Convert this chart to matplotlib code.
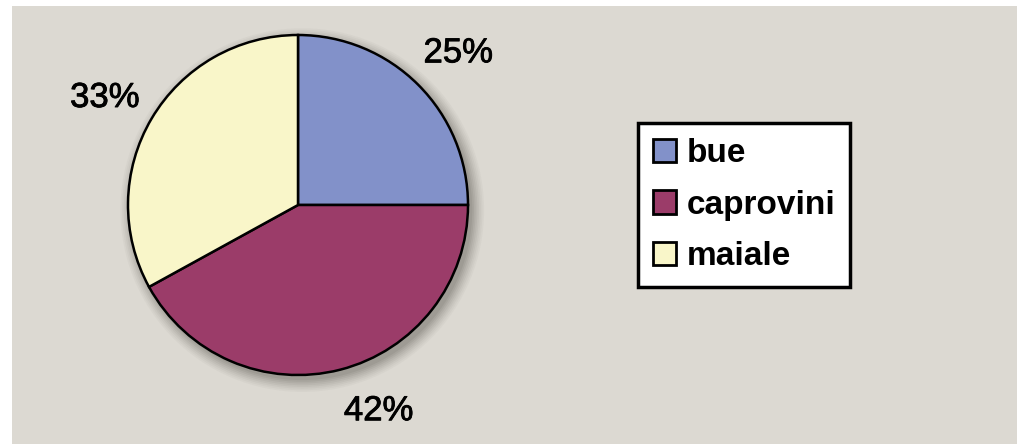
import numpy as np
import matplotlib.pyplot as plt
import matplotlib.patheffects as pe
from matplotlib.patches import Rectangle, Circle

plt.rcParams['font.family'] = ['Liberation Sans', 'DejaVu Sans']

# share of each kind of meat
categories = ['bue', 'caprovini', 'maiale']
shares = [25, 42, 33]
colors = ['#8291c9', '#9b3c69', '#f9f6c9']

fig = plt.figure(figsize=(10.17, 4.44), dpi=100)
fig.patch.set_facecolor('white')

# grey panel behind everything
fig.patches.append(Rectangle((12 / 1017, 0), 1 - 12 / 1017, 1 - 6 / 444,
                             transform=fig.transFigure, facecolor='#dcd9d2',
                             edgecolor='none', zorder=-10))

ax = fig.add_axes([128 / 1017, 69 / 444, 340 / 1017, 340 / 444])
ax.set_xlim(-1, 1)
ax.set_ylim(-1, 1)
ax.set_aspect('equal')
ax.axis('off')

# soft shadow under the pie
for r, a in zip(np.linspace(1.07, 1.0, 8), np.linspace(0.03, 0.08, 8)):
    ax.add_patch(Circle((0.025, -0.03), r, facecolor='#3a3630', edgecolor='none',
                        alpha=a, zorder=1, clip_on=False))

wedges, _ = ax.pie(shares, colors=colors, startangle=90, counterclock=False,
                   radius=1.0, wedgeprops=dict(edgecolor='black', linewidth=1.8, zorder=2),
                   frame=True)
ax.axis('off')

# percentage labels just outside the slices
nudge = [-1.5, 7, 1.5]
start = 90.0
for share, dn in zip(shares, nudge):
    mid = start - share * 3.6 / 2 + dn
    start -= share * 3.6
    ang = np.radians(mid)
    ax.text(1.3 * np.cos(ang), 1.3 * np.sin(ang), f'{share}%', ha='center', va='center',
            fontsize=25, color='black', clip_on=False,
            path_effects=[pe.withStroke(linewidth=0.6, foreground='black')])

leg = fig.legend(wedges, categories, loc='upper left',
                 bbox_to_anchor=(638 / 1017, 1 - 123 / 444),
                 prop=dict(size=24, weight='bold'), frameon=True, fancybox=False,
                 handlelength=0.7, handleheight=0.7, handletextpad=0.3,
                 labelspacing=0.62, borderpad=0.45, borderaxespad=0)
leg.get_frame().set_edgecolor('black')
leg.get_frame().set_linewidth(2.5)
leg.get_frame().set_facecolor('white')
leg.get_frame().set_alpha(1)
for h in leg.legend_handles:
    h.set_edgecolor('black')
    h.set_linewidth(2)

fig.savefig('out.png', dpi=100)
